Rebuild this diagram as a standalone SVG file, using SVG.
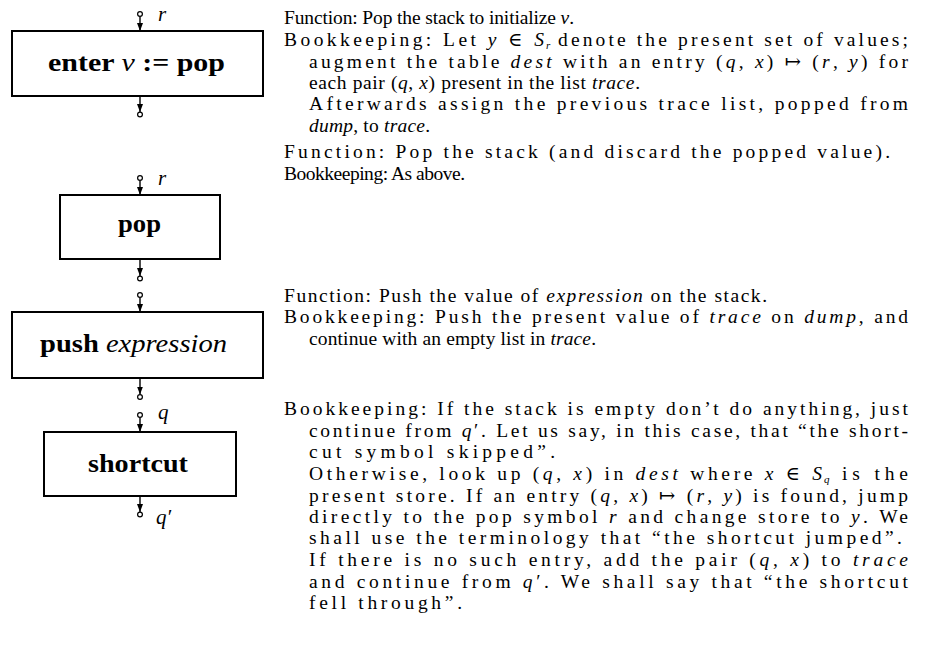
<svg xmlns="http://www.w3.org/2000/svg" width="930" height="666" viewBox="0 0 930 666">
<style>
.t { font-family: "Liberation Serif", "DejaVu Serif", serif; font-size: 19.5px; fill: #000; }
.i { font-style: italic; }
.lb { font-family: "Liberation Serif", "DejaVu Serif", serif; font-size: 25px; font-weight: bold; fill: #000; }
.lbi { font-weight: normal; font-style: italic; }
.ml { font-family: "Liberation Serif", "DejaVu Serif", serif; font-size: 21px; font-style: italic; fill: #000; }
.box { fill: #fff; stroke: #000; stroke-width: 2; }
.cn { stroke: #000; stroke-width: 1.4; fill: none; }
.dot { fill: #fff; stroke: #000; stroke-width: 1.2; }
.sub { font-family: "Liberation Serif", "DejaVu Serif", serif; font-size: 11px; font-style: italic; fill: #000; }
</style>
<defs>
<marker id="ah" viewBox="0 0 8 6" refX="8" refY="3" markerUnits="userSpaceOnUse" markerWidth="8" markerHeight="6" orient="auto">
<path d="M0,0 L8,3 L0,6 z" fill="#000"/>
</marker>
</defs>

<g id="connectors">
<line class="cn" x1="140" y1="16.5" x2="140" y2="31" marker-end="url(#ah)"/>
<circle class="dot" cx="140" cy="14" r="2.4"/>
<line class="cn" x1="140" y1="96" x2="140" y2="112" marker-end="url(#ah)"/>
<circle class="dot" cx="140" cy="114.5" r="2.4"/>

<line class="cn" x1="140" y1="180.5" x2="140" y2="195" marker-end="url(#ah)"/>
<circle class="dot" cx="140" cy="178" r="2.4"/>
<line class="cn" x1="140" y1="259" x2="140" y2="276" marker-end="url(#ah)"/>
<circle class="dot" cx="140" cy="278.5" r="2.4"/>

<line class="cn" x1="140" y1="297.5" x2="140" y2="312" marker-end="url(#ah)"/>
<circle class="dot" cx="140" cy="295" r="2.4"/>
<line class="cn" x1="140" y1="378" x2="140" y2="394.5" marker-end="url(#ah)"/>
<circle class="dot" cx="140" cy="397" r="2.4"/>

<line class="cn" x1="140" y1="417.5" x2="140" y2="432" marker-end="url(#ah)"/>
<circle class="dot" cx="140" cy="415" r="2.4"/>
<line class="cn" x1="140" y1="496" x2="140" y2="512" marker-end="url(#ah)"/>
<circle class="dot" cx="140" cy="514.5" r="2.4"/>

<text class="ml" x="158" y="21">r</text>
<text class="ml" x="158" y="185">r</text>
<text class="ml" x="158" y="419">q</text>
<text class="ml" x="156" y="524">q′</text>
</g>

<g id="node-enter">
<rect class="box" x="12" y="31" width="251" height="65"/>
<text class="lb" x="48" y="71" textLength="177" lengthAdjust="spacingAndGlyphs">enter <tspan class="lbi">v</tspan>  := pop</text>
</g>

<g id="node-pop">
<rect class="box" x="60" y="195" width="160" height="64"/>
<text class="lb" x="118" y="232" textLength="43" lengthAdjust="spacingAndGlyphs">pop</text>
</g>

<g id="node-push">
<rect class="box" x="12" y="312" width="251" height="66"/>
<text class="lb" x="40" y="352" textLength="187" lengthAdjust="spacingAndGlyphs">push <tspan class="lbi">expression</tspan></text>
</g>

<g id="node-shortcut">
<rect class="box" x="44" y="432" width="192" height="64"/>
<text class="lb" x="88" y="472" textLength="100" lengthAdjust="spacingAndGlyphs">shortcut</text>
</g>

<g id="desc-enter">
<text class="t" x="284" y="24" textLength="290" lengthAdjust="spacing">Function: Pop the stack to initialize <tspan class="i">v</tspan>.</text>
<text class="t" x="284" y="46" textLength="260" lengthAdjust="spacing">Bookkeeping: Let <tspan class="i">y</tspan> ∈ <tspan class="i">S</tspan></text>
<text class="sub" x="546" y="48.5">r</text>
<text class="t" x="558" y="46" textLength="350" lengthAdjust="spacing">denote the present set of values;</text>
<text class="t" x="309" y="68" textLength="599" lengthAdjust="spacing">augment the table <tspan class="i">dest</tspan> with an entry (<tspan class="i">q</tspan>, <tspan class="i">x</tspan>) ↦ (<tspan class="i">r</tspan>, <tspan class="i">y</tspan>) for</text>
<text class="t" x="309" y="89" textLength="331" lengthAdjust="spacing">each pair (<tspan class="i">q</tspan>, <tspan class="i">x</tspan>) present in the list <tspan class="i">trace</tspan>.</text>
<text class="t" x="309" y="110" textLength="599" lengthAdjust="spacing">Afterwards assign the previous trace list, popped from</text>
<text class="t" x="309" y="132" textLength="121" lengthAdjust="spacing"><tspan class="i">dump</tspan>, to <tspan class="i">trace</tspan>.</text>
</g>

<g id="desc-pop">
<text class="t" x="284" y="158" textLength="606" lengthAdjust="spacing">Function: Pop the stack (and discard the popped value).</text>
<text class="t" x="284" y="180" textLength="181" lengthAdjust="spacing">Bookkeeping: As above.</text>
</g>

<g id="desc-push">
<text class="t" x="284" y="302" textLength="483" lengthAdjust="spacing">Function: Push the value of <tspan class="i">expression</tspan> on the stack.</text>
<text class="t" x="284" y="323" textLength="624" lengthAdjust="spacing">Bookkeeping: Push the present value of <tspan class="i">trace</tspan> on <tspan class="i">dump</tspan>, and</text>
<text class="t" x="309" y="345" textLength="287" lengthAdjust="spacing">continue with an empty list in <tspan class="i">trace</tspan>.</text>
</g>

<g id="desc-shortcut">
<text class="t" x="284" y="415" textLength="624" lengthAdjust="spacing">Bookkeeping: If the stack is empty don’t do anything, just</text>
<text class="t" x="309" y="437" textLength="599" lengthAdjust="spacing">continue from <tspan class="i">q</tspan>′. Let us say, in this case, that “the short-</text>
<text class="t" x="309" y="458" textLength="246" lengthAdjust="spacing">cut symbol skipped”.</text>
<text class="t" x="309" y="480" textLength="513" lengthAdjust="spacing">Otherwise, look up (<tspan class="i">q</tspan>, <tspan class="i">x</tspan>) in <tspan class="i">dest</tspan> where <tspan class="i">x</tspan> ∈ <tspan class="i">S</tspan></text>
<text class="sub" x="824" y="482.5">q</text>
<text class="t" x="842" y="480" textLength="66" lengthAdjust="spacing">is the</text>
<text class="t" x="309" y="502" textLength="599" lengthAdjust="spacing">present store. If an entry (<tspan class="i">q</tspan>, <tspan class="i">x</tspan>) ↦ (<tspan class="i">r</tspan>, <tspan class="i">y</tspan>) is found, jump</text>
<text class="t" x="309" y="523" textLength="599" lengthAdjust="spacing">directly to the pop symbol <tspan class="i">r</tspan> and change store to <tspan class="i">y</tspan>. We</text>
<text class="t" x="309" y="544" textLength="593" lengthAdjust="spacing">shall use the terminology that “the shortcut jumped”.</text>
<text class="t" x="309" y="566" textLength="599" lengthAdjust="spacing">If there is no such entry, add the pair (<tspan class="i">q</tspan>, <tspan class="i">x</tspan>) to <tspan class="i">trace</tspan></text>
<text class="t" x="309" y="588" textLength="599" lengthAdjust="spacing">and continue from <tspan class="i">q</tspan>′. We shall say that “the shortcut</text>
<text class="t" x="309" y="609" textLength="153" lengthAdjust="spacing">fell through”.</text>
</g>
</svg>
